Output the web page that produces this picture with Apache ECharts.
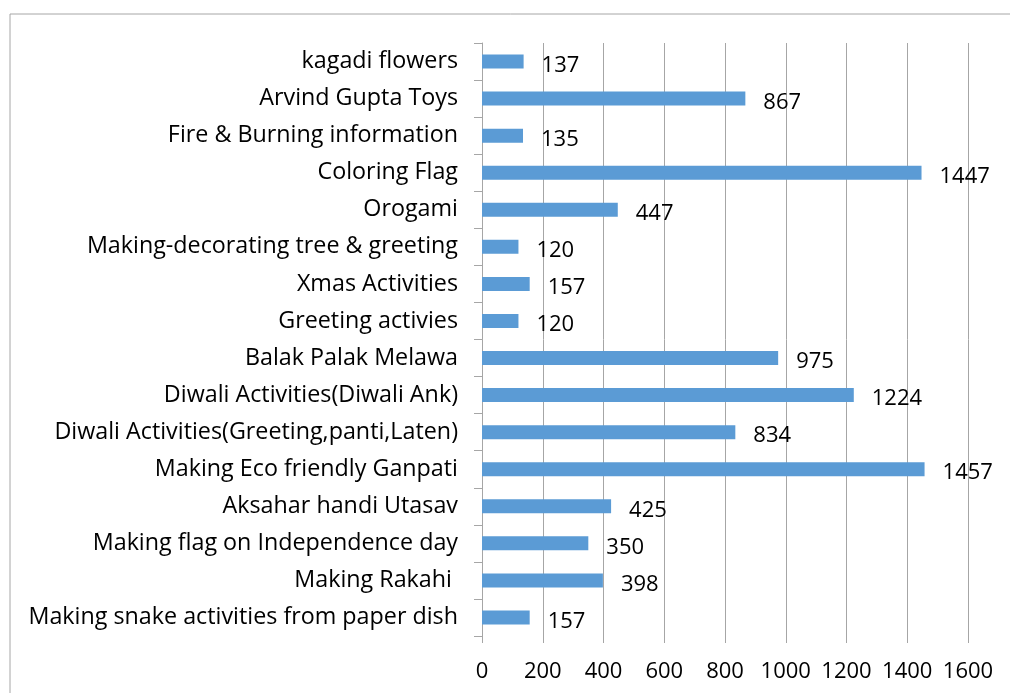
<!DOCTYPE html>
<html><head><meta charset="utf-8">
<script src="https://cdn.jsdelivr.net/npm/echarts@6/dist/echarts.min.js"></script>
<style>html,body{margin:0;padding:0;background:#fff}#c{width:1010px;height:693px}</style>
</head><body><div id="c"></div>
<script>
const categories = [
  "Making snake activities from paper dish",
  "Making Rakahi ",
  "Making flag on Independence day",
  "Aksahar handi Utasav",
  "Making Eco friendly Ganpati",
  "Diwali Activities(Greeting,panti,Laten)",
  "Diwali Activities(Diwali Ank)",
  "Balak Palak Melawa",
  "Greeting activies",
  "Xmas Activities",
  "Making-decorating tree & greeting",
  "Orogami",
  "Coloring Flag",
  "Fire & Burning information",
  "Arvind Gupta Toys",
  "kagadi flowers"
];
const values = [157, 398, 350, 425, 1457, 834, 1224, 975, 120, 157, 120, 447, 1447, 135, 867, 137];
const xTicks = [0, 1600, 200];

const chart = echarts.init(document.getElementById('c'), null, {renderer: 'canvas'});
const font = "'Open Sans', sans-serif";
chart.setOption({
  animation: false,
  graphic: [{
    type: 'rect', shape: {x: 10, y: 14, width: 1100, height: 800},
    style: {fill: 'none', stroke: '#A6A6A6', lineWidth: 1}
  }],
  grid: {left: 482, right: 42, top: 43, bottom: 57, containLabel: false},
  xAxis: {
    type: 'value', min: xTicks[0], max: xTicks[1], interval: xTicks[2],
    axisLine: {show: false},
    axisTick: {show: true, length: 7, lineStyle: {color: '#A6A6A6'}},
    splitLine: {show: true, lineStyle: {color: '#A6A6A6', width: 1}},
    axisLabel: {color: '#000', fontFamily: font, fontSize: 22, margin: 25,
      formatter: function (v) { return String(v); }}
  },
  yAxis: {
    type: 'category', data: categories,
    axisLine: {show: true, lineStyle: {color: '#A6A6A6'}},
    axisTick: {show: true, length: 8, lineStyle: {color: '#A6A6A6'}},
    axisLabel: {color: '#000', fontFamily: font, fontSize: 23.3, margin: 24}
  },
  series: [{
    type: 'bar', data: values, barWidth: 14,
    itemStyle: {color: '#5B9BD5'},
    label: {show: true, position: 'right', distance: 18, offset: [0, 4],
      color: '#000', fontFamily: font, fontSize: 22}
  }]
});
</script></body></html>
